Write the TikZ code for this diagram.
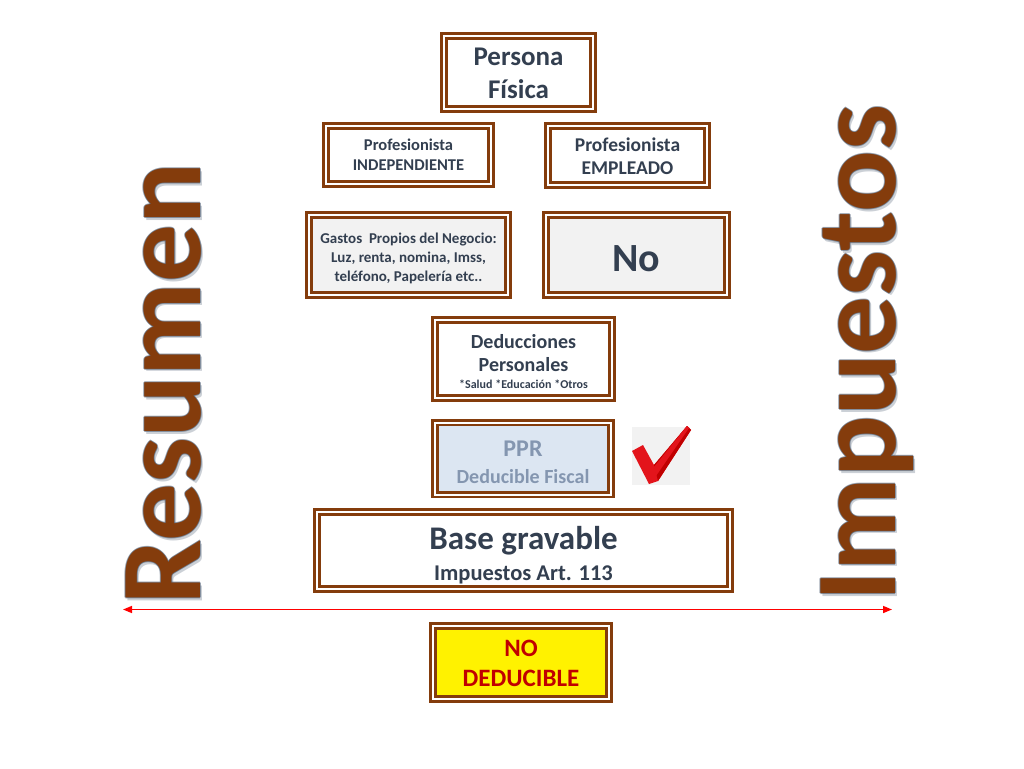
\documentclass[tikz,border=0pt]{standalone}
\usepackage{fontspec}
\setmainfont{Carlito}
\usetikzlibrary{arrows.meta}
\definecolor{brn}{HTML}{843C0C}
\definecolor{txt}{HTML}{333F50}
\definecolor{outl}{HTML}{56657A}
\definecolor{lgray}{HTML}{F2F2F2}
\definecolor{lblue}{HTML}{DCE6F2}
\definecolor{pprtxt}{HTML}{8496B0}
\definecolor{dred}{HTML}{C00000}
\definecolor{chkred}{HTML}{E3141B}
\newcommand\fsz[1]{\fontsize{#1}{#1}\selectfont}
\begin{document}
\begin{tikzpicture}[x=1pt,y=-1pt,
  dbox/.style={draw=brn, line width=2.8pt, double=white, double distance=2pt,
    rectangle, inner sep=0pt, outer sep=0pt},
  lbl/.style={anchor=base, inner sep=0pt, text=txt, font=\bfseries\fsz{#1}},
  big/.style={rotate=90, anchor=base west, inner sep=0pt, font=\bfseries\fsz{115}},
  arr/.style={draw=red, line width=1.5pt, {Triangle[length=9pt,width=7pt]}-{Triangle[length=9pt,width=7pt]}}
]
\useasboundingbox[fill=white] (0,0) rectangle (1024,768);

% big rotated words (soft outline and shadow)
\foreach \dx/\dy/\op [count=\i] in {2.5/2.5/0.3,-1/0/0.6,1/0/0.6,0/-1/0.6,0/1/0.6}{
  \node[big, text=outl, text opacity=\op] (rs\i) at (200+\dx,605+\dy) {Resumen};
  \node[big, text=outl, text opacity=\op] (is\i) at (895+\dx,602+\dy) {Impuestos};
}
\node[big, text=brn] (resumen) at (200,605) {Resumen};
\node[big, text=brn] (impuestos) at (895,602) {Impuestos};

% boxes
\node[dbox, fill=white, minimum width=149pt, minimum height=73pt] (pf) at (518.5,72.5) {};
\node[dbox, fill=white, minimum width=165pt, minimum height=58pt] (pi) at (408.5,155) {};
\node[dbox, fill=white, minimum width=159pt, minimum height=59pt] (pe) at (627.5,155.5) {};
\node[dbox, fill=lgray, minimum width=199pt, minimum height=80pt] (ga) at (408.5,255) {};
\node[dbox, fill=lgray, minimum width=181pt, minimum height=80pt] (no) at (636.5,255) {};
\node[dbox, fill=white, minimum width=177pt, minimum height=78pt] (dp) at (523.5,359) {};
\node[dbox, fill=lblue, minimum width=176pt, minimum height=72pt] (ppr) at (523,458.5) {};
\node[dbox, fill=white, minimum width=413pt, minimum height=77pt] (bg) at (523.5,550.5) {};
\node[dbox, fill=yellow, minimum width=176pt, minimum height=73pt] (nd) at (521,662.5) {};

% texts
\node[lbl=27] (t1) at (518.5,66) {Persona};
\node[lbl=27] (t2) at (518.5,98) {Física};
\node[lbl=16.5] (t3) at (408.5,150) {Profesionista};
\node[lbl=16.5] (t4) at (408.5,170.5) {INDEPENDIENTE};
\node[lbl=19.5] (t5) at (627.5,151) {Profesionista};
\node[lbl=19.5] (t6) at (627.5,174) {EMPLEADO};
\node[lbl=15] (t7) at (408.5,243) {Gastos\ \ Propios del Negocio:};
\node[lbl=15] (t8) at (408.5,262) {Luz, renta, nomina, Imss,};
\node[lbl=15] (t9) at (408.5,281) {teléfono, Papelería etc..};
\node[lbl=40] (t10) at (636.5,271) {No};
\node[lbl=20] (t11) at (523.5,348) {Deducciones};
\node[lbl=20] (t12) at (523.5,371) {Personales};
\node[lbl=12] (t13) at (523.5,388) {*Salud *Educación *Otros};
\node[lbl=24, text=pprtxt] (t14) at (523,456) {PPR};
\node[lbl=20, text=pprtxt] (t15) at (523,483) {Deducible Fiscal};
\node[lbl=33] (t16) at (523.5,549) {Base gravable};
\node[lbl=22.5] (t17) at (523.5,580) {Impuestos Art. 113};
\node[lbl=25, text=dred] (t18) at (521,656) {NO};
\node[lbl=25, text=dred] (t19) at (521,686) {DEDUCIBLE};

% check mark
\node[fill=lgray, minimum width=58pt, minimum height=58pt, inner sep=0pt] (chk) at (661,456) {};
\fill[chkred] (632,451) -- (643,445) -- (654,465) -- (687,426) -- (691,430) -- (658,481) -- (649,484) -- cycle;
\fill[dred] (654,465) -- (687,426) -- (691,430) -- (658,481) -- cycle;
\fill[chkred] (654,467) -- (687,426) -- (689,428) -- (656,476) -- cycle;

% red arrow line
\coordinate (la) at (123,609.5);
\coordinate (ra) at (892,609.5);
\draw[arr] (la) -- (ra);
\end{tikzpicture}
\end{document}
